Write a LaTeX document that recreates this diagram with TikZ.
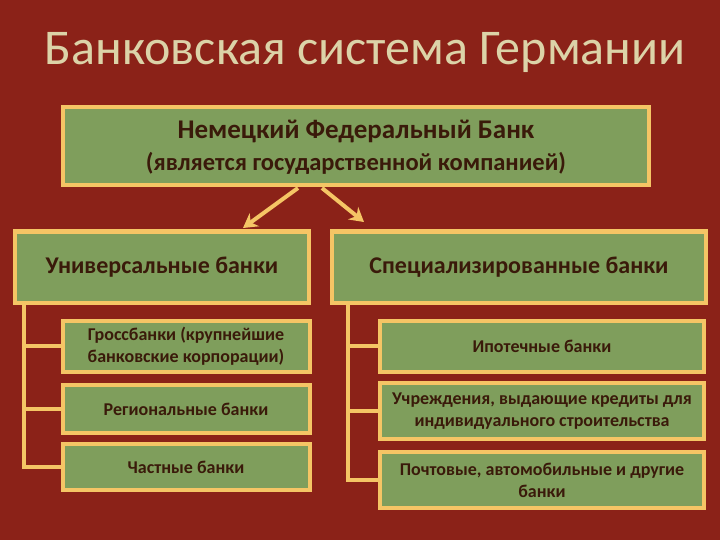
\documentclass[tikz,border=0pt]{standalone}
\usepackage{fontspec}
\setmainfont{Carlito}
\usetikzlibrary{arrows.meta}
\definecolor{bg}{HTML}{8B2218}
\definecolor{gr}{HTML}{7F9E5C}
\definecolor{bd}{HTML}{F5C565}
\definecolor{tx}{HTML}{3A1A0A}
\definecolor{tt}{HTML}{DCD3A8}
\begin{document}
\begin{tikzpicture}[x=1pt,y=-1pt,
 box/.style={draw=bd,line width=4pt,fill=gr,text=tx,font=\bfseries,align=center,inner sep=0pt},
 ln/.style={draw=bd,line width=4pt},
 ar/.style={draw=bd,line width=4pt,-{Stealth[length=14pt,width=16pt]}}]
\fill[bg] (0,0) rectangle (720,540);
\useasboundingbox (0,0) rectangle (720,540);
\node[text=tt,font=\fontsize{50}{56}\selectfont] (title) at (365,52) {Банковская система Германии};
\node[box,minimum width=586pt,minimum height=78pt] (top) at (356,146) {};
\node[text=tx,font=\fontsize{27}{30}\selectfont\bfseries] (t1) at (356,131) {Немецкий Федеральный Банк};
\node[text=tx,font=\fontsize{24.5}{28}\selectfont\bfseries] (t2) at (356,163) {(является государственной компанией)};
\node[box,minimum width=294pt,minimum height=71pt,font=\fontsize{24}{28}\selectfont\bfseries] (L) at (162,267) {Универсальные банки};
\node[box,minimum width=374pt,minimum height=71pt,font=\fontsize{24}{28}\selectfont\bfseries] (R) at (519,267) {Специализированные банки};
\coordinate (a0) at (298,188); \coordinate (b0) at (322,188);
\draw[ar] (a0) -- (243,228);
\draw[ar] (b0) -- (364,222);
\tikzset{sb/.style={box,font=\fontsize{18}{22}\selectfont\bfseries}}
\node[sb,minimum width=247pt,minimum height=51pt] (L1) at (186,346) {Гроссбанки (крупнейшие\\банковские корпорации)};
\node[sb,minimum width=247pt,minimum height=48pt] (L2) at (186,409) {Региональные банки};
\node[sb,minimum width=247pt,minimum height=46pt] (L3) at (186,467) {Частные банки};
\node[sb,minimum width=324pt,minimum height=51pt] (R1) at (542,346) {Ипотечные банки};
\node[sb,minimum width=324pt,minimum height=56pt] (R2) at (542,411) {Учреждения, выдающие кредиты для\\индивидуального строительства};
\node[sb,minimum width=324pt,minimum height=56pt] (R3) at (542,480) {Почтовые, автомобильные и другие\\банки};
\draw[ln] (24,305) |- (L3.west);
\draw[ln] (24,346) -- (L1.west);
\draw[ln] (24,409) -- (L2.west);
\draw[ln] (348,305) |- (R3.west);
\draw[ln] (348,346) -- (R1.west);
\draw[ln] (348,411) -- (R2.west);
\end{tikzpicture}
\end{document}
